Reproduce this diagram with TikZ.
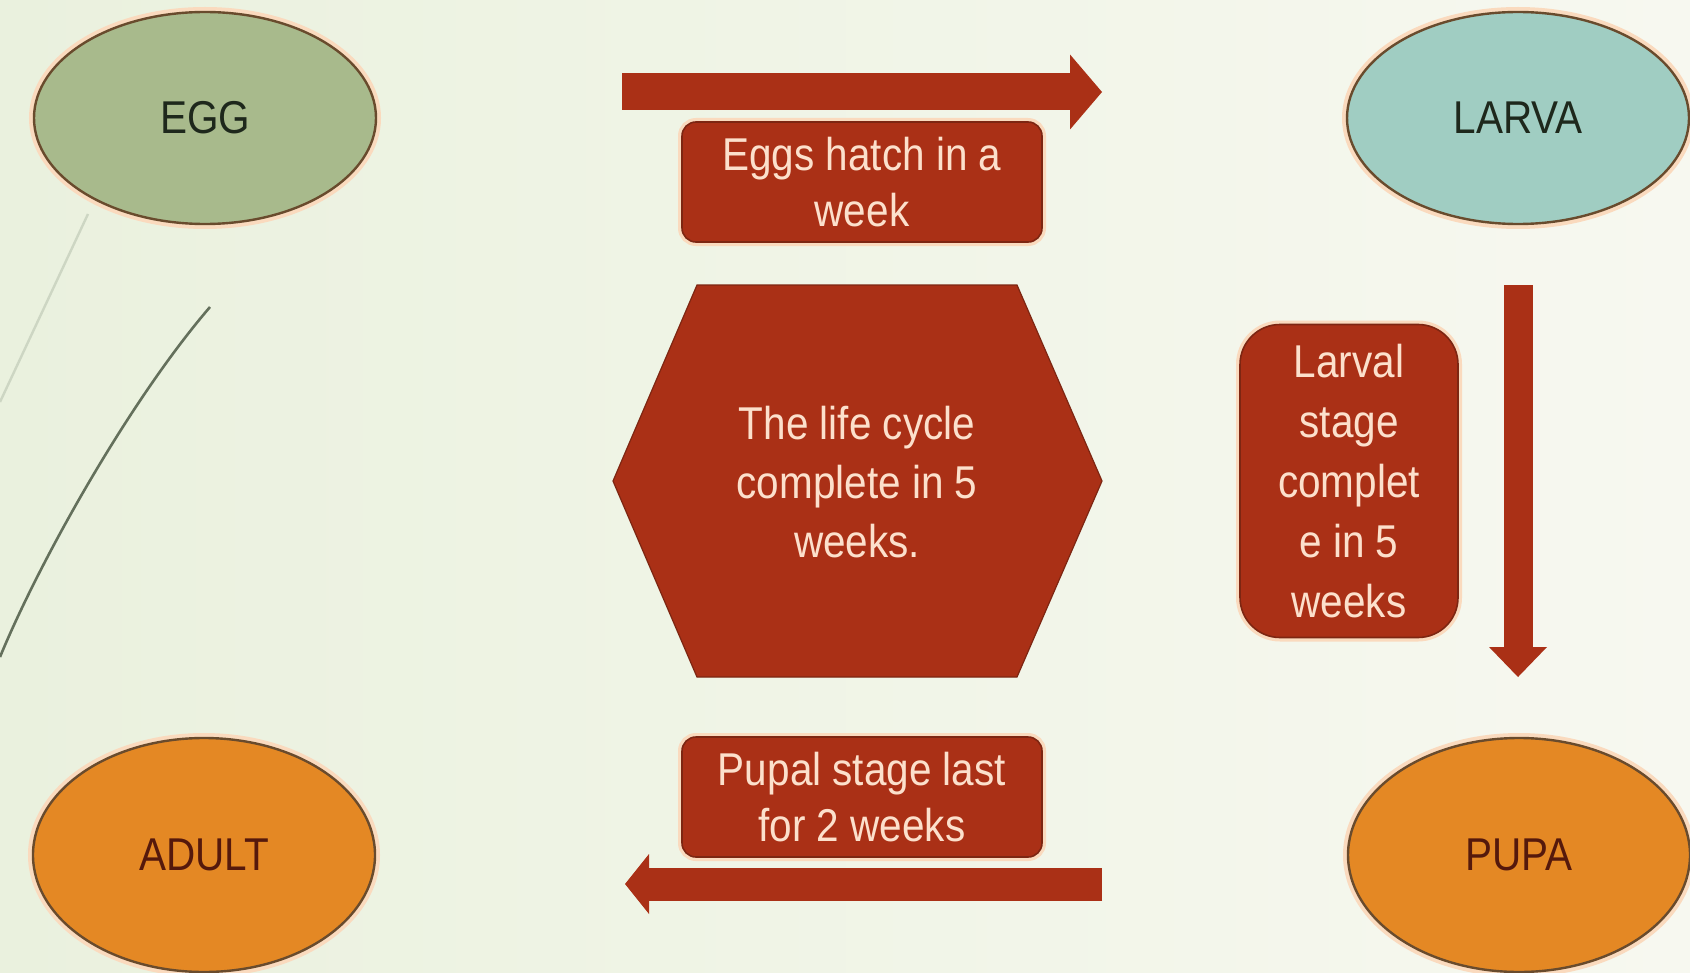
\documentclass[tikz,border=0pt]{standalone}
\usepackage{fontspec}
\setmainfont{Liberation Sans}[FakeStretch=0.88]
\usetikzlibrary{shapes.geometric,arrows.meta}
\definecolor{bgleft}{RGB}{234,241,222}
\definecolor{bgright}{RGB}{247,248,240}
\definecolor{rust}{RGB}{170,48,22}
\definecolor{rustdark}{RGB}{125,38,18}
\definecolor{peach}{RGB}{252,224,204}
\definecolor{glow}{RGB}{250,218,190}
\definecolor{eggfill}{RGB}{168,186,140}
\definecolor{larvafill}{RGB}{160,205,194}
\definecolor{orangefill}{RGB}{228,136,36}
\definecolor{rim}{RGB}{105,75,45}
\definecolor{darkink}{RGB}{30,40,28}
\definecolor{redink}{RGB}{85,25,12}
\definecolor{streak}{RGB}{100,112,92}
\definecolor{faint}{RGB}{205,214,195}

\begin{document}
\begin{tikzpicture}[x=0.5pt,y=-0.5pt,
    every node/.style={font=\fontsize{23pt}{28pt}\selectfont},
    stage/.style={ellipse,draw=rim,line width=1.2pt,inner sep=0pt,minimum width=171pt,
        preaction={draw=glow,line width=5pt}},
    note/.style={rectangle,rounded corners=7pt,fill=rust,draw=rustdark,line width=0.8pt,
        text=peach,align=center,inner sep=0pt,preaction={draw=glow,line width=4pt}},
    block/.style={rust,line width=#1}]
    \useasboundingbox (0,0) rectangle (1690,973);
    \shade[left color=bgleft,right color=bgright] (0,0) rectangle (1690,973);
    \draw[faint,line width=1.2pt] (88,214) -- (0,402);
    \draw[streak,line width=1.3pt] (210,307) .. controls (130,400) and (40,560) .. (0,657);
    \node[stage,fill=eggfill,text=darkink,minimum height=106pt] (egg) at (205,118) {EGG};
    \node[stage,fill=larvafill,text=darkink,minimum height=106pt] (larva) at (1518,118) {LARVA};
    \node[stage,fill=orangefill,text=redink,minimum height=117pt] (adult) at (204,855) {ADULT};
    \node[stage,fill=orangefill,text=redink,minimum height=117pt] (pupa) at (1519,855) {PUPA};
    \node[note,minimum width=180pt,minimum height=60pt] (hatch) at (862,182) {Eggs hatch in a\\week};
    \node[note,minimum width=180pt,minimum height=60pt] (pupal) at (862,797) {Pupal stage last\\for 2 weeks};
    \node[note,rounded corners=20pt,minimum width=109pt,minimum height=156.5pt,
        font=\fontsize{23pt}{30pt}\selectfont] (larval) at (1349,481) {Larval\\stage\\complet\\e in 5\\weeks};
    \filldraw[fill=rust,draw=rustdark,line width=0.6pt] (613,481) -- (697,285) -- (1017,285)
        -- (1102,481) -- (1017,677) -- (697,677) -- cycle;
    \node[text=peach,align=center,font=\fontsize{23pt}{29.5pt}\selectfont] (life) at (857,482) {The life cycle\\complete in 5\\weeks.};
    \coordinate (hatchtail) at (622,92);
    \coordinate (hatchtip) at (1102,92);
    \coordinate (larvaltail) at (1518,285);
    \coordinate (larvaltip) at (1518,677);
    \coordinate (pupaltail) at (1102,884);
    \coordinate (pupaltip) at (625,884);
    \draw[block=18.5pt,-{Triangle[length=16pt,width=37.5pt,line width=0pt]}] (hatchtail) -- (hatchtip);
    \draw[block=14.5pt,-{Triangle[length=15pt,width=29pt,line width=0pt]}] (larvaltail) -- (larvaltip);
    \draw[block=16.5pt,-{Triangle[length=12pt,width=30pt,line width=0pt]}] (pupaltail) -- (pupaltip);
\end{tikzpicture}
\end{document}
